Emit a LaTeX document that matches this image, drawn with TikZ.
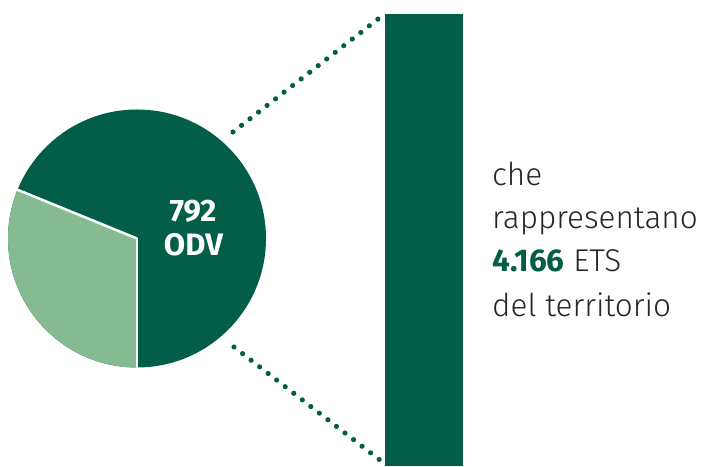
\documentclass[tikz,border=0pt]{standalone}
\usepackage{fontspec}
\IfFontExistsTF{Fira Sans Light}
  {\setmainfont{Fira Sans Light}[BoldFont={Fira Sans Bold}]}
  {\setmainfont{Fira Sans}}
\usetikzlibrary{positioning}
\definecolor{odvdark}{HTML}{035E47}
\definecolor{odvlight}{HTML}{86BB91}
\tikzset{dots/.style={odvdark, line width=5.2pt, line cap=round, dash pattern=on 0pt off 10.8pt}}
\tikzset{txt/.style={anchor=base west, inner sep=0pt, font=\fontsize{31.5}{44}\selectfont, text=black!85}}
\tikzset{pielabel/.style={anchor=base, inner sep=0pt, text=white, font=\fontsize{31}{34}\selectfont\bfseries}}

\begin{document}
\begin{tikzpicture}[x=1pt,y=1pt]
\useasboundingbox (0,0) rectangle (701,466);
    %pie
    \coordinate (c) at (137,227.5);
    \fill[odvdark] (c) circle (129);
    \fill[odvlight] (c) -- ++(157.8:129) arc[start angle=157.8, end angle=270, radius=129] -- cycle;
    \draw[white, line width=2.5pt] (c) -- ++(157.8:130);
    \draw[white, line width=2.5pt] (c) -- ++(270:130);
    \node[pielabel] (num) at (193,244.3) {792};
    \node[pielabel] (odv) at (193.5,210) {ODV};
    %bar
    \node[fill=odvdark, minimum width=78pt, minimum height=452pt, inner sep=0pt, anchor=south west] (bar) at (385,0) {};
    %dotted lines
    \coordinate (ptop) at (233,334);
    \coordinate (pbot) at (234,119);
    \draw[dots] (ptop) -- (bar.north west);
    \draw[dots] (pbot) -- ([yshift=2pt]bar.south west);
    %text
    \node[txt] (l1) at (492,280) {che};
    \node[txt] (l2) at (492,237) {rappresentano};
    \node[txt] (l3) at (492,194) {\textcolor{odvdark}{\bfseries 4.166} ETS};
    \node[txt] (l4) at (492,149) {del territorio};
\end{tikzpicture}
\end{document}
